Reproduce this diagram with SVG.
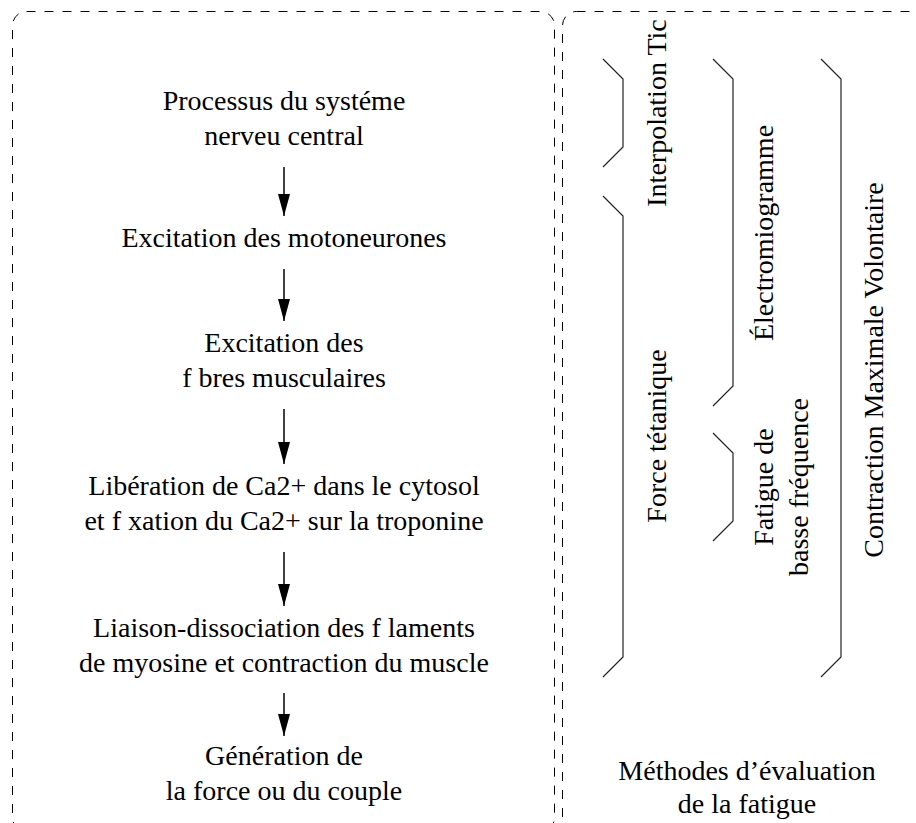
<svg xmlns="http://www.w3.org/2000/svg" width="916" height="823" viewBox="0 0 916 823">
<style>
.t{font-family:'Liberation Serif','Times New Roman',serif;font-size:28px;fill:#000;text-anchor:middle}
.box{fill:none;stroke:#000;stroke-width:1;stroke-dasharray:9 9}
.br{fill:none;stroke:#222;stroke-width:1.2}
.ar{stroke:#000;stroke-width:1.5;fill:none;marker-end:url(#ah)}
</style>
<defs>
<marker id="ah" viewBox="0 0 22 12" refX="22" refY="6" markerWidth="22" markerHeight="12" markerUnits="userSpaceOnUse" orient="auto">
<path d="M0,0 L22,6 L0,12 Z" fill="#000"/>
</marker>
</defs>
<rect width="916" height="823" fill="#fff"/>
<g id="panels">
<rect id="left-panel" class="box" x="12.5" y="11.5" width="542" height="820" rx="14"/>
<rect id="right-panel" class="box" x="562.5" y="11.5" width="400" height="820" rx="14"/>
</g>
<g id="n1"><text class="t" font-family="Liberation Serif" x="284" y="110">Processus du systéme</text><text class="t" font-family="Liberation Serif" x="284" y="145">nerveu central</text></g>
<g id="n2"><text class="t" font-family="Liberation Serif" x="284" y="247">Excitation des motoneurones</text></g>
<g id="n3"><text class="t" font-family="Liberation Serif" x="284" y="352">Excitation des</text><text class="t" font-family="Liberation Serif" x="284" y="387">f bres musculaires</text></g>
<g id="n4"><text class="t" font-family="Liberation Serif" x="284" y="495">Libération de Ca2+ dans le cytosol</text><text class="t" font-family="Liberation Serif" x="284" y="530">et f xation du Ca2+ sur la troponine</text></g>
<g id="n5"><text class="t" font-family="Liberation Serif" x="284" y="637">Liaison-dissociation des f laments</text><text class="t" font-family="Liberation Serif" x="284" y="672">de myosine et contraction du muscle</text></g>
<g id="n6"><text class="t" font-family="Liberation Serif" x="284" y="765">Génération de</text><text class="t" font-family="Liberation Serif" x="284" y="800">la force ou du couple</text></g>
<g id="m1"><text class="t" font-family="Liberation Serif" transform="translate(666,113) rotate(-90)">Interpolation Tic</text></g>
<g id="m2"><text class="t" font-family="Liberation Serif" transform="translate(666,436) rotate(-90)">Force tétanique</text></g>
<g id="m3"><text class="t" font-family="Liberation Serif" transform="translate(773,233) rotate(-90)">Électromiogramme</text></g>
<g id="m4"><text class="t" font-family="Liberation Serif" transform="translate(773,487) rotate(-90)">Fatigue de</text><text class="t" font-family="Liberation Serif" transform="translate(808,487) rotate(-90)">basse fréquence</text></g>
<g id="m5"><text class="t" font-family="Liberation Serif" transform="translate(883,370) rotate(-90)">Contraction Maximale Volontaire</text></g>
<g id="title"><text class="t" font-family="Liberation Serif" x="747" y="780">Méthodes d’évaluation</text><text class="t" font-family="Liberation Serif" x="747" y="813">de la fatigue</text></g>
<g id="connectors">
<line class="ar" x1="284" y1="167" x2="284" y2="216"/>
<line class="ar" x1="284" y1="269" x2="284" y2="321"/>
<line class="ar" x1="284" y1="409" x2="284" y2="464"/>
<line class="ar" x1="284" y1="552" x2="284" y2="606"/>
<line class="ar" x1="284" y1="693" x2="284" y2="736"/>
</g>
<g id="brackets">
<path class="br" d="M603,59 L623,79 L623,147 L603,167"/>
<path class="br" d="M603,196 L623,216 L623,657 L603,677"/>
<path class="br" d="M713,59 L733,79 L733,386 L713,406"/>
<path class="br" d="M713,433 L733,453 L733,521 L713,541"/>
<path class="br" d="M821,59 L841,79 L841,657 L821,677"/>
</g>
</svg>
